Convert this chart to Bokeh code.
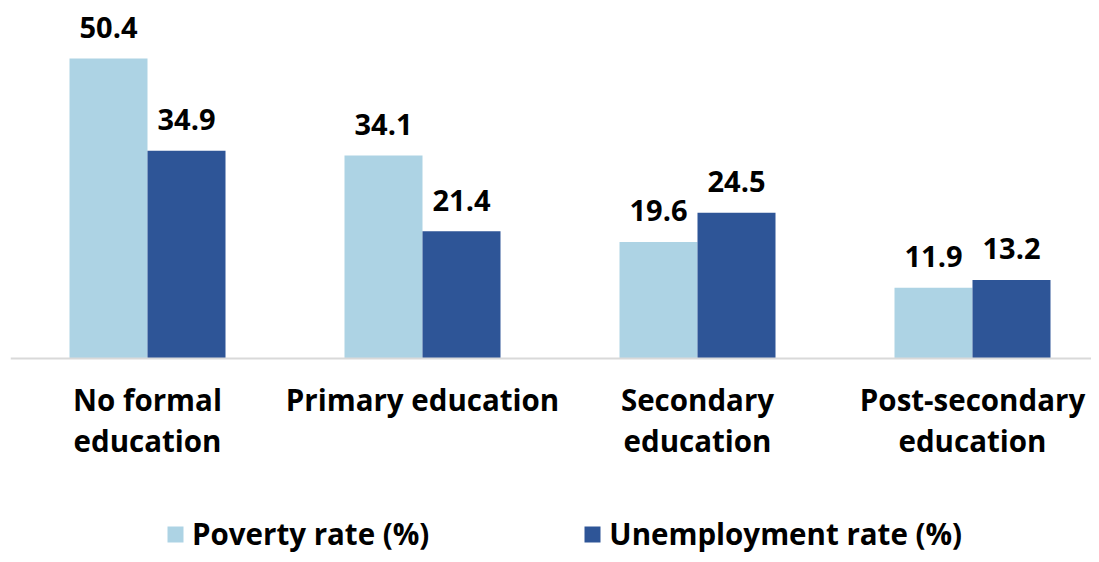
from bokeh.plotting import figure
from bokeh.models import Range1d, Span, Legend, LegendItem, ColumnDataSource
from bokeh.core.properties import value
from bokeh.embed import file_html
from bokeh.resources import INLINE
import numpy as np

categories = ["No formal\neducation", "Primary education", "Secondary\neducation", "Post-secondary\neducation"]
poverty = [50.4, 34.1, 19.6, 11.9]
unemployment = [34.9, 21.4, 24.5, 13.2]
series_names = ["Poverty rate (%)", "Unemployment rate (%)"]
colors = ["#ADD3E4", "#2E5597"]

W, H = 1091, 554
left_border = 10
px_per_cat = 275.0
px_per_unit = 5.95
frame_w = W - left_border
x_start = -137.0 / px_per_cat
y_top = 358.0 / px_per_unit

p = figure(width=W, height=H, output_backend="svg", toolbar_location=None,
           x_range=Range1d(x_start, x_start + frame_w / px_per_cat),
           y_range=Range1d(y_top - H / px_per_unit, y_top),
           min_border_left=left_border, min_border_right=0, min_border_top=0, min_border_bottom=0)
p.axis.visible = False
p.grid.visible = False
p.outline_line_color = None
p.background_fill_color = "white"

idx = np.arange(len(categories))
bw = 78.0 / px_per_cat
src = ColumnDataSource(dict(
    xp=idx - bw / 2, xu=idx + bw / 2, pov=poverty, une=unemployment,
    pl=[f"{v:.1f}" for v in poverty], ul=[f"{v:.1f}" for v in unemployment],
    cx=idx, cat=categories, zero=[0] * len(categories)))

r1 = p.vbar(x="xp", top="pov", width=bw, source=src, fill_color=colors[0], line_color=None)
r2 = p.vbar(x="xu", top="une", width=bw, source=src, fill_color=colors[1], line_color=None)

p.add_layout(Span(location=0, dimension="width", line_color="#D9D9D9", line_width=2))

font = value("Open Sans")
p.text(x="xp", y="pov", text="pl", source=src, text_font=font, text_font_style="bold",
       text_font_size="29px", text_align="center", text_baseline="middle", y_offset=-31, text_color="black")
p.text(x="xu", y="une", text="ul", source=src, text_font=font, text_font_style="bold",
       text_font_size="29px", text_align="center", text_baseline="middle", y_offset=-31, text_color="black")
p.text(x="cx", y="zero", text="cat", source=src, text_font=font, text_font_style="bold",
       text_font_size="29.5px", text_align="center", text_baseline="top", y_offset=20,
       text_line_height=1.0, text_color="black")

legend = Legend(items=[LegendItem(label=series_names[0], renderers=[r1]),
                       LegendItem(label=series_names[1], renderers=[r2])],
                orientation="horizontal", location=(155, 0),
                label_text_font="Open Sans", label_text_font_style="bold",
                label_text_font_size="29.5px", label_text_color="black",
                glyph_width=20, glyph_height=20, label_standoff=7, spacing=153,
                padding=0, margin=0, border_line_color=None, background_fill_alpha=0)
p.add_layout(legend, "center")

open("out.html", "w").write(file_html(p, INLINE))
